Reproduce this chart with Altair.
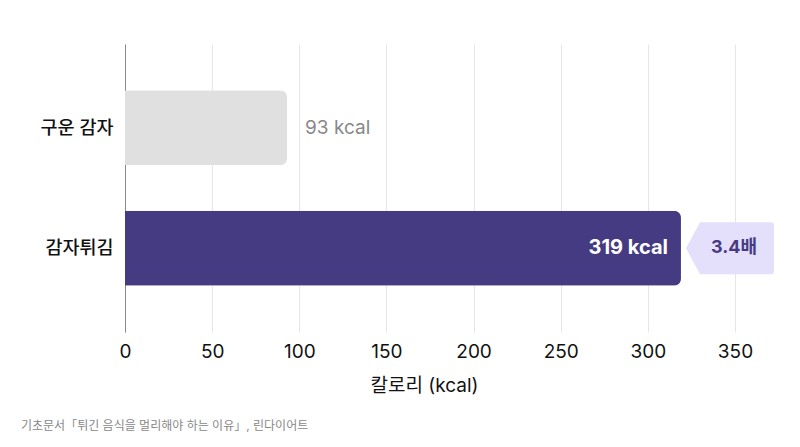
import altair as alt
import pandas as pd

foods = ["구운 감자", "감자튀김"]
kcal = [93, 319]
bar_colors = ["#e0e0e0", "#453b83"]
ratio_text = ["3.4배"]
x_ticks = [0, 50, 100, 150, 200, 250, 300, 350]
source_note = "기초문서「튀긴 음식을 멀리해야 하는 이유」, 린다이어트"

FONT = "Inter, Noto Sans CJK KR, sans-serif"

df = pd.DataFrame({"food": foods, "kcal": kcal})
df["label"] = df["kcal"].astype(str) + " kcal"
ratio_df = pd.DataFrame({"food": [foods[1]], "kcal": [kcal[1]], "ratio": ratio_text})

x_enc = alt.X(
    "kcal:Q",
    title="칼로리 (kcal)",
    scale=alt.Scale(domain=[0, 350], nice=False),
    axis=alt.Axis(values=x_ticks, grid=True, gridColor="#e6e6e6", domain=False, ticks=False,
                  labelFontSize=19, labelColor="#111111", labelPadding=10, labelFont=FONT,
                  labelFlush=False,
                  titleFontSize=19, titleFontWeight=400, titleColor="#111111", titleFont=FONT,
                  titlePadding=15, titleX=299),
)
y_enc = alt.Y(
    "food:N",
    sort=foods,
    title=None,
    scale=alt.Scale(paddingInner=0.378, paddingOuter=0.384),
    axis=alt.Axis(ticks=False, domain=True, domainColor="#888888", grid=False,
                  labelFontSize=18.5, labelFontWeight=500, labelColor="#111111",
                  labelPadding=12, labelFont=FONT),
)

base = alt.Chart(df).encode(x=x_enc, y=y_enc)

bars = base.mark_bar(cornerRadiusEnd=7).encode(
    color=alt.Color("food:N", scale=alt.Scale(domain=foods, range=bar_colors), legend=None)
)

outside_label = base.transform_filter(alt.datum.food == foods[0]).mark_text(
    align="left", baseline="middle", dx=18, fontSize=19, color="#888888", font=FONT
).encode(text="label:N")

inside_label = base.transform_filter(alt.datum.food == foods[1]).mark_text(
    align="right", baseline="middle", dx=-13, fontSize=20, fontWeight="bold", color="white", font=FONT
).encode(text="label:N")

# left-pointing tag next to the long bar
tag_path = "M -1 0 L -0.68 -0.59 L 0.93 -0.59 Q 1 -0.59 1 -0.52 L 1 0.52 Q 1 0.59 0.93 0.59 L -0.68 0.59 Z"
tag = alt.Chart(ratio_df).mark_point(
    shape=tag_path, size=7744, filled=True, color="#e4dffa", opacity=1, strokeWidth=0, xOffset=49
).encode(x="kcal:Q", y=alt.Y("food:N", sort=foods))

tag_text = alt.Chart(ratio_df).mark_text(
    align="center", baseline="middle", dx=53, fontSize=18, fontWeight="bold", color="#453b83", font=FONT
).encode(x="kcal:Q", y=alt.Y("food:N", sort=foods), text="ratio:N")

chart = alt.layer(bars, outside_label, inside_label, tag, tag_text).properties(
    width=610,
    height=288,
    autosize="none",
    padding={"left": 117, "top": 36, "right": 57, "bottom": 100},
    background="white",
    title=alt.TitleParams(source_note, orient="bottom", anchor="start", frame="group",
                          fontSize=12, fontWeight="normal", color="#888888", font=FONT,
                          dx=-104, offset=26),
).configure_view(stroke=None)

chart.save("out.html", embed_options={"renderer": "svg", "actions": False})
